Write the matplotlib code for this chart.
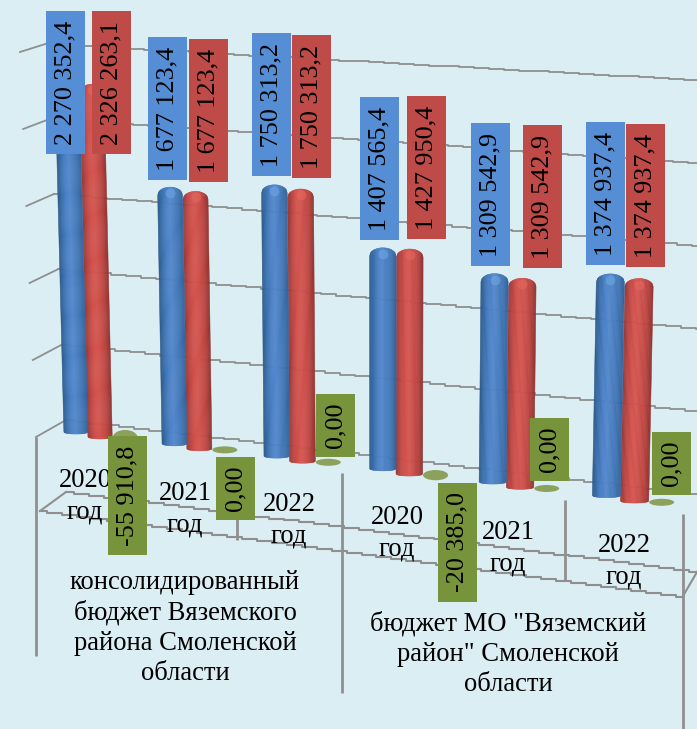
import numpy as np
import matplotlib
matplotlib.use('Agg')
import matplotlib.pyplot as plt
from matplotlib.collections import PolyCollection
from matplotlib.colors import LinearSegmentedColormap
from matplotlib.patches import Rectangle, Ellipse

plt.rcParams['font.family'] = ['Liberation Serif', 'DejaVu Serif']

# Data
years = ['2020\nгод', '2021\nгод', '2022\nгод', '2020\nгод', '2021\nгод', '2022\nгод']
groups = ['консолидированный\nбюджет Вяземского\nрайона Смоленской\nобласти',
          'бюджет МО "Вяземский\nрайон" Смоленской\nобласти']
plan = [2270352.4, 1677123.4, 1750313.2, 1407565.4, 1309542.9, 1374937.4]
fact = [2326263.1, 1677123.4, 1750313.2, 1427950.4, 1309542.9, 1374937.4]
diff = [-55910.8, 0.0, 0.0, -20385.0, 0.0, 0.0]
diff_labels = ['-55 910,8', '0,00', '0,00', '-20 385,0', '0,00', '0,00']
grid_values = [0, 500000, 1000000, 1500000, 2000000, 2500000]

# Layout, in pixels of the 697x729 picture
year_xy = [(85, 496), (185, 509), (289, 520), (397, 533), (508, 548), (624, 561)]
group_xy = [(185, 628), (508, 654)]
plan_box = [(46, 11), (148, 37), (252, 33), (360, 97), (471, 123), (586, 122)]
fact_box = [(92, 11), (189, 39), (292, 35), (407, 96), (523, 125), (626, 124)]
diff_box = [(108, 436, 119), (216, 457, 63), (316, 394, 63),
            (438, 483, 119), (530, 418, 63), (652, 432, 63)]
separators = [(36, 437, 656), (237, 460, 540), (342, 473, 693),
              (565, 500, 580), (683, 514, 729)]

BG = '#DBEEF4'
GRID = '#8f8f8f'
blue_map = LinearSegmentedColormap.from_list(
    'b', ['#2f5a88', '#3b70ae', '#4a80c6', '#5488cc', '#4a7ec0', '#3f74b2', '#34639a'])
red_map = LinearSegmentedColormap.from_list(
    'r', ['#93393a', '#bc4541', '#d2514c', '#d4554f', '#c94d48', '#b9433f', '#8e3533'])


def group_x(i):
    return 88 + 97 * i + 1.9 * i ** 2


def bar_width(x):
    return 23.5 + 0.0075 * x


def bar_y(x, v):
    return 432 + 0.12 * (x - 76) - v * (1.497e-4 + 1.91e-8 * x)


def grid_y(x, v):
    return 420 + 0.1175 * (x - 66) - v * (1.484e-4 + 2.47e-8 * x)


def cylinder(ax, xc, value, cmap, depth, zorder):
    width = bar_width(xc)
    lean = 8e-5 * (xc - 385)
    y0 = bar_y(xc, 0) + depth
    top = bar_y(xc, value) + depth
    shift = lean * (y0 - top)
    edges = np.linspace(-1, 1, 25)
    polys, colors = [], []
    for a, b in zip(edges[:-1], edges[1:]):
        xa = xc + a * width / 2
        xb = xc + b * width / 2
        da = 8 * (1 - np.sqrt(1 - a ** 2))
        db = 8 * (1 - np.sqrt(1 - b ** 2))
        ba = 2 * np.sqrt(1 - a ** 2)
        bb = 2 * np.sqrt(1 - b ** 2)
        polys.append([(xa, y0 + ba), (xb, y0 + bb),
                      (xb + shift, top + db), (xa + shift, top + da)])
        colors.append(cmap((a + b) / 4 + 0.5))
    ax.add_collection(PolyCollection(polys, facecolors=colors, edgecolors=colors,
                                     linewidths=0.4, zorder=zorder))
    # shine on the rounded top
    light = '#6fa9e6' if cmap is blue_map else '#e8685f'
    ax.scatter([xc + shift], [top + 6], s=50, color=light, alpha=0.55,
               linewidths=0, zorder=zorder + 0.1)


fig = plt.figure(figsize=(6.97, 7.29), dpi=100, facecolor=BG)
ax = fig.add_axes([0, 0, 1, 1])
ax.set_xlim(0, 697)
ax.set_ylim(729, 0)
ax.axis('off')

# Walls: grid lines with the stepped look of the scaled picture
for v in grid_values:
    frac = v / grid_values[-1]
    xc = 66 - 20 * frac
    xs = np.arange(xc, 712, 15.0)
    ax.plot(xs, np.round(grid_y(xs, v)), color=GRID, lw=1.3,
            drawstyle='steps-mid', zorder=1)
    ax.plot([36 - 16 * frac, xc], [437 - 385 * frac, grid_y(xc, v)],
            color=GRID, lw=1.3, zorder=1)

# Floor
floor_back = np.linspace(66, 697, 43)
floor_front = np.linspace(40, 683, 44)
ax.plot(floor_back, np.round(492 + 0.1262 * (floor_back - 66)), color=GRID, lw=1.5,
        drawstyle='steps-mid', zorder=1)
ax.plot(floor_front, np.round(511 + 0.1331 * (floor_front - 40)), color=GRID, lw=1.5,
        drawstyle='steps-mid', zorder=1)
ax.plot([40, 66], [511, 492], color=GRID, lw=1.5, zorder=1)
ax.plot([683, 697], [596, 572], color=GRID, lw=1.5, zorder=1)
for x, y0, y1 in separators:
    ax.plot([x, x], [y0, y1], color=GRID, lw=2, solid_capstyle='butt', zorder=1)

# Bars
for i in range(len(plan)):
    xc = group_x(i)
    w = bar_width(xc)
    cylinder(ax, xc + w / 2, fact[i], red_map, 2, 3)
    cylinder(ax, xc - w / 2, plan[i], blue_map, 0, 4)
    xd = xc + w + 13
    ax.add_patch(Ellipse((xd, bar_y(xd, 0)), 25, 7 + abs(diff[i]) * 1.6e-4,
                         facecolor='#7f9440', alpha=0.85, edgecolor='none', zorder=2))

# Year and group names
for label, (x, y) in zip(years, year_xy):
    ax.text(x, y, label, ha='center', va='center', fontsize=19.2, linespacing=1.32,
            color='black', zorder=5)
for label, (x, y) in zip(groups, group_xy):
    ax.text(x, y, label, ha='center', va='center', fontsize=19.2, linespacing=1.27,
            color='black', zorder=5)


def value_label(x, y, h, text, color):
    ax.add_patch(Rectangle((x, y), 39, h, facecolor=color, edgecolor='none', zorder=6))
    ax.text(x + 19.5, y + h / 2, text, rotation=90, ha='center', va='center',
            fontsize=18.8, color='black', zorder=7)


def fmt(v):
    return '{:,.1f}'.format(v).replace(',', ' ').replace('.', ',')


for i in range(len(plan)):
    value_label(plan_box[i][0], plan_box[i][1], 143, fmt(plan[i]), '#558ED5')
    value_label(fact_box[i][0], fact_box[i][1], 143, fmt(fact[i]), '#BE4B48')
    value_label(diff_box[i][0], diff_box[i][1], diff_box[i][2], diff_labels[i], '#77933C')

plt.savefig('out.png', dpi=100, facecolor=BG)
